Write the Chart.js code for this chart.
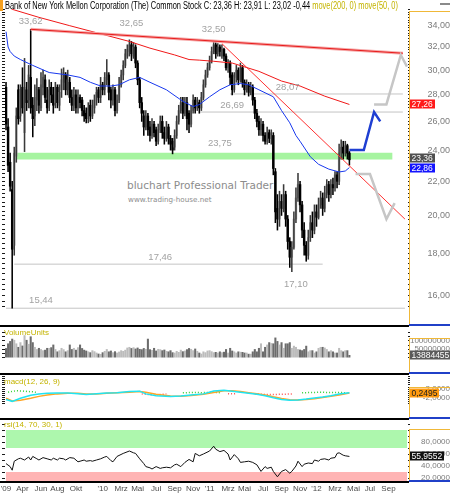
<!DOCTYPE html>
<html>
<head>
<meta charset="utf-8">
<title>Bank of New York Mellon - weekly</title>
<script src="https://cdn.jsdelivr.net/npm/chart.js@4.4.1/dist/chart.umd.min.js"></script>
<style>
  html, body { margin: 0; padding: 0; background: #fff; }
  #wrap { position: relative; width: 450px; height: 494px; overflow: hidden; font-family: "Liberation Sans", Arial, sans-serif; }
  #wrap canvas { position: absolute; left: 0; }
  .abs { position: absolute; white-space: nowrap; }
  .pane { font-size: 8px; line-height: 10px; color: #c4b400; }
</style>
</head>
<body>
<div id="wrap">
  <div class="abs" style="left:127px;top:179px;font-family:'DejaVu Sans';font-size:10.5px;color:#8c8c8c;">bluchart Professional Trader</div>
  <div class="abs" style="left:128px;top:195px;font-family:'DejaVu Sans';font-size:7.2px;color:#8c8c8c;">www.trading-house.net</div>

  <canvas id="priceChart" width="450" height="318" style="top:9px"></canvas>
  <canvas id="volChart" width="450" height="46" style="top:326px"></canvas>
  <canvas id="macdChart" width="450" height="45" style="top:374px"></canvas>
  <canvas id="rsiChart" width="450" height="75" style="top:419px"></canvas>

  <div class="abs" style="left:0;top:0;width:3px;height:11px;background:#f5a020"></div>
  <div class="abs" style="left:5px;top:0;font-size:10px;line-height:11px;color:#000;transform:scaleX(0.745);transform-origin:0 0">Bank of New York Mellon Corporation (The) Common Stock C: 23,36 H: 23,91 L: 23,02 -0,44 <span style="color:#c4b400">move(200, 0) move(50, 0)</span></div>
  <div class="abs" style="left:440px;top:3px;width:10px;height:2px;background:#8a8a8a"></div>

  <div class="abs pane" style="left:4px;top:328px">VolumeUnits</div>
  <div class="abs pane" style="left:4px;top:377px">macd(12, 26, 9)</div>
  <div class="abs pane" style="left:4px;top:420px">rsi(14, 70, 30, 1)</div>

  <!-- pane separators and axis frames -->
  <div class="abs" style="left:0;top:325px;width:409px;height:2px;background:#000"></div>
  <div class="abs" style="left:0;top:373px;width:409px;height:2px;background:#000"></div>
  <div class="abs" style="left:0;top:418px;width:409px;height:2px;background:#000"></div>
  <div class="abs" style="left:0;top:481px;width:409px;height:2px;background:#000"></div>

  <div class="abs" style="left:409px;top:11px;width:1px;height:314px;background:#f0b838"></div>
  <div class="abs" style="left:409px;top:11px;width:41px;height:1px;background:#f0b838"></div>
  <div class="abs" style="left:409px;top:324px;width:41px;height:2px;background:#2040c8"></div>

  <div class="abs" style="left:409px;top:338px;width:1px;height:35px;background:#f0b838"></div>
  <div class="abs" style="left:409px;top:338px;width:41px;height:1px;background:#f0b838"></div>
  <div class="abs" style="left:409px;top:372px;width:41px;height:2px;background:#2040c8"></div>

  <div class="abs" style="left:409px;top:387px;width:1px;height:31px;background:#f0b838"></div>
  <div class="abs" style="left:409px;top:387px;width:41px;height:1px;background:#f0b838"></div>
  <div class="abs" style="left:409px;top:417px;width:41px;height:2px;background:#2040c8"></div>

  <div class="abs" style="left:409px;top:429px;width:1px;height:52px;background:#f0b838"></div>
  <div class="abs" style="left:409px;top:429px;width:41px;height:1px;background:#f0b838"></div>
  <div class="abs" style="left:409px;top:480px;width:41px;height:2px;background:#2040c8"></div>
</div>

<script>
// weekly categories, first week of Feb 2009 up to autumn 2012
const firstWeek = Date.UTC(2009, 1, 2);
const weekMs = 7 * 24 * 3600 * 1000;
const weekLabels = Array.from({ length: 196 }, (_, i) => new Date(firstWeek + i * weekMs).toISOString().slice(0, 10));

const xTickDates = ['2009-02-01', '2009-04-01', '2009-06-01', '2009-08-01', '2009-10-01', '2010-01-01', '2010-03-01',
  '2010-05-01', '2010-07-01', '2010-09-01', '2010-11-01', '2011-01-01', '2011-03-01', '2011-05-01', '2011-07-01',
  '2011-09-01', '2011-11-01', '2012-01-01', '2012-03-01', '2012-05-01', '2012-07-01', '2012-09-01'];
const xTickLabels = ["'09", 'Apr', 'Jun', 'Aug', 'Okt', "'10", 'Mrz', 'Mai', 'Jul', 'Sep', 'Nov',
  "'11", 'Mrz', 'Mai', 'Jul', 'Sep', 'Nov', "'12", 'Mrz', 'Mai', 'Jul', 'Sep'];

// weekly candles
const openPrices = [
  28.6, 25.6, 23.2, 21.5, 18.4, 23.6, 28.4, 26.4, 28.6, 25.2,
  28.4, 27.6, 29.4, 27.2, 26.4, 27.6, 28.4, 27.0, 28.6, 29.2,
  27.6, 27.2, 28.6, 28.0, 27.4, 28.6, 27.2, 28.4, 29.0, 29.6,
  28.4, 29.0, 27.8, 27.2, 28.0, 27.0, 27.8, 27.6, 26.8, 26.6,
  26.2, 27.2, 26.4, 27.0, 27.6, 28.4, 27.8, 28.8, 28.4, 29.2,
  29.6, 28.4, 27.6, 28.4, 26.8, 27.6, 28.8, 29.6, 30.4, 31.2,
  31.6, 32.2, 31.2, 32.0, 30.6, 29.2, 27.4, 26.4, 25.6, 26.4,
  25.6, 25.0, 25.8, 25.4, 24.6, 25.4, 26.0, 25.2, 24.8, 25.6,
  24.8, 24.6, 24.2, 25.0, 26.0, 26.8, 27.4, 26.6, 27.4, 26.6,
  25.8, 26.8, 27.6, 27.0, 27.4, 27.0, 27.8, 28.8, 29.6, 30.2,
  30.8, 31.6, 32.2, 31.4, 32.0, 31.2, 31.8, 31.2, 30.2, 30.6,
  29.6, 28.4, 29.4, 30.0, 29.2, 30.2, 29.0, 28.4, 28.8, 28.2,
  28.6, 27.6, 26.6, 26.0, 25.4, 25.8, 25.0, 24.6, 25.2, 24.8,
  25.0, 22.6, 20.4, 19.8, 20.8, 20.4, 21.2, 19.8, 18.6, 17.8,
  18.3, 19.8, 21.0, 21.8, 20.6, 19.2, 18.4, 17.9, 18.8, 19.6,
  19.2, 20.2, 19.9, 20.6, 21.0, 20.4, 21.3, 21.8, 21.2, 21.8,
  21.6, 22.4, 22.0, 23.8, 24.2, 23.8, 24.3, 23.8
];
const highPrices = [
  29.0, 26.2, 23.8, 22.0, 24.2, 27.0, 28.8, 28.8, 30.2, 31.0,
  29.0, 30.4, 33.62, 27.8, 28.8, 29.3, 28.6, 29.8, 30.0, 29.6,
  28.6, 29.2, 29.0, 28.6, 29.0, 28.8, 28.8, 30.1, 30.2, 29.8,
  30.0, 29.4, 28.4, 28.6, 28.4, 28.4, 28.0, 27.8, 27.2, 27.0,
  27.4, 27.6, 27.6, 28.0, 28.6, 28.6, 29.4, 29.0, 29.8, 30.9,
  29.8, 28.6, 28.8, 28.6, 28.0, 29.4, 30.0, 30.8, 31.8, 32.2,
  32.65, 32.5, 32.4, 32.2, 30.8, 29.4, 27.8, 26.8, 26.8, 26.6,
  26.0, 26.2, 26.0, 25.6, 25.8, 26.4, 26.4, 25.6, 26.0, 25.8,
  25.0, 24.8, 25.4, 26.4, 27.2, 27.8, 27.8, 27.8, 27.8, 26.8,
  27.2, 28.0, 27.8, 27.8, 27.6, 28.2, 29.2, 30.0, 30.6, 31.2,
  32.0, 32.5, 32.4, 32.3, 32.2, 32.2, 31.9, 31.4, 30.9, 30.8,
  29.8, 29.8, 30.4, 30.2, 30.6, 30.4, 29.2, 29.2, 29.0, 29.0,
  28.8, 27.8, 26.9, 26.4, 26.2, 26.0, 25.2, 25.6, 25.4, 25.4,
  25.2, 22.8, 21.2, 21.4, 21.2, 21.8, 21.4, 20.0, 18.8, 18.6,
  20.2, 21.6, 22.5, 22.0, 20.8, 19.6, 18.6, 19.2, 20.0, 20.2,
  20.6, 20.6, 21.0, 21.4, 21.3, 21.7, 22.1, 22.0, 22.1, 22.2,
  22.6, 22.6, 24.4, 24.7, 24.6, 24.6, 24.4, 23.91
];
const lowPrices = [
  25.4, 22.6, 21.4, 15.44, 17.9, 23.2, 25.8, 26.0, 26.6, 23.9,
  26.8, 27.0, 26.6, 24.9, 25.7, 26.8, 26.6, 26.8, 28.0, 27.4,
  26.6, 26.8, 27.4, 26.6, 27.0, 27.0, 26.8, 27.8, 28.4, 28.0,
  28.0, 27.4, 26.8, 26.8, 26.6, 26.6, 27.0, 26.4, 26.0, 25.9,
  25.9, 26.0, 26.2, 26.6, 27.2, 27.4, 27.4, 28.0, 28.0, 28.8,
  27.6, 27.0, 27.2, 26.4, 26.6, 27.4, 28.6, 29.2, 30.2, 31.0,
  31.2, 30.8, 31.0, 30.2, 28.8, 27.0, 26.0, 25.0, 25.4, 25.0,
  24.6, 24.8, 24.9, 24.3, 24.4, 25.2, 24.8, 24.4, 24.6, 24.4,
  24.0, 23.75, 24.0, 24.8, 25.8, 26.6, 26.2, 26.4, 25.4, 25.2,
  25.6, 26.6, 26.6, 26.8, 26.6, 26.8, 27.6, 28.6, 29.4, 30.0,
  30.6, 31.4, 31.0, 31.2, 31.2, 31.0, 30.8, 30.0, 29.8, 28.8,
  28.0, 28.2, 29.0, 28.8, 29.0, 28.6, 28.0, 28.2, 27.9, 28.0,
  27.2, 26.2, 25.6, 25.0, 25.0, 24.6, 24.4, 24.4, 24.5, 24.4,
  22.4, 19.6, 19.2, 19.4, 20.0, 20.2, 19.4, 18.2, 17.3, 17.10,
  18.2, 19.6, 20.8, 20.2, 18.8, 17.9, 17.6, 17.7, 18.6, 18.8,
  19.0, 19.4, 19.8, 20.4, 20.0, 20.2, 21.0, 20.8, 21.0, 21.2,
  21.4, 21.6, 21.8, 23.4, 23.4, 23.6, 23.4, 23.02
];
const closePrices = [
  25.8, 23.0, 21.7, 18.2, 23.8, 26.4, 26.2, 28.4, 27.0, 28.6,
  27.4, 29.6, 27.0, 26.2, 27.8, 28.6, 27.2, 28.8, 29.4, 27.8,
  27.0, 28.4, 28.0, 27.2, 28.6, 27.4, 28.2, 29.2, 29.8, 28.4,
  29.2, 27.8, 27.2, 28.0, 27.0, 27.8, 27.4, 26.8, 26.4, 26.2,
  27.0, 26.4, 27.2, 27.6, 28.2, 27.8, 28.8, 28.4, 29.4, 29.8,
  28.2, 27.6, 28.4, 26.8, 27.6, 28.8, 29.6, 30.4, 31.4, 31.8,
  32.2, 31.4, 32.0, 30.6, 29.2, 27.4, 26.6, 25.6, 26.4, 25.4,
  25.0, 25.8, 25.2, 24.6, 25.4, 26.0, 25.2, 24.8, 25.6, 24.8,
  24.4, 24.0, 25.0, 26.0, 26.8, 27.4, 26.6, 27.4, 26.2, 25.8,
  26.8, 27.6, 27.0, 27.4, 27.0, 27.8, 28.8, 29.6, 30.2, 30.8,
  31.6, 32.2, 31.4, 32.0, 31.6, 31.8, 31.2, 30.2, 30.6, 29.4,
  28.4, 29.4, 30.0, 29.2, 30.2, 29.0, 28.4, 28.8, 28.2, 28.6,
  27.6, 26.6, 26.0, 25.4, 25.8, 25.0, 24.6, 25.2, 24.8, 25.0,
  22.8, 20.2, 19.8, 20.8, 20.4, 21.2, 19.8, 18.6, 17.8, 18.3,
  19.8, 21.0, 21.8, 20.6, 19.2, 18.4, 17.9, 18.8, 19.6, 19.2,
  20.2, 19.9, 20.6, 21.0, 20.4, 21.3, 21.8, 21.2, 21.8, 21.6,
  22.4, 22.0, 23.8, 24.2, 23.8, 24.3, 23.8, 23.36
];
// volume in millions of shares
const volumeMio = [
  55, 83, 97, 111, 104, 83, 62, 90, 70, 132,
  104, 80, 125, 90, 62, 49, 56, 49, 42, 45,
  56, 56, 60, 76, 49, 35, 42, 56, 48, 35,
  42, 76, 49, 56, 45, 60, 76, 55, 45, 40,
  35, 30, 42, 36, 28, 22, 20, 30, 38, 49,
  35, 40, 30, 36, 28, 34, 42, 38, 45, 58,
  62, 55, 60, 52, 58, 50, 48, 55, 50, 111,
  48, 44, 56, 40, 50, 48, 42, 46, 38, 35,
  42, 30, 28, 38, 32, 45, 36, 40, 48, 55,
  50, 42, 52, 38, 28, 22, 35, 30, 40, 42,
  36, 30, 32, 28, 35, 30, 33, 49, 28, 56,
  40, 35, 28, 35, 33, 32, 28, 28, 21, 21,
  35, 49, 35, 56, 83, 35, 62, 76, 90, 85,
  83, 118, 97, 76, 90, 56, 83, 83, 90, 56,
  69, 62, 49, 46, 42, 49, 69, 35, 42, 42,
  28, 35, 56, 62, 62, 58, 49, 35, 42, 35,
  28, 28, 56, 42, 35, 42, 42, 13.884455
];

// moving averages
const ma200Weeks = [0, 3, 16, 31, 46, 60, 70, 82, 89, 94, 101, 110, 123, 134, 143, 155, 167];
const ma200Values = [36.0, 35.55, 34.76, 33.96, 33.2, 32.5, 31.9, 31.3, 30.9, 30.85, 30.75, 30.6, 29.9, 29.1, 28.7, 27.9, 27.26];
const ma50Weeks = [0, 1, 2, 4, 7, 13, 21, 30, 36, 41, 46, 51, 55, 60, 65, 70, 78, 86, 91, 94,
  99, 104, 109, 114, 118, 123, 130, 134, 138, 141, 143, 148, 152, 157, 162, 165, 167];
const ma50Values = [33.4, 32.0, 31.6, 31.2, 30.9, 30.4, 29.8, 29.6, 29.4, 29.0, 28.7, 28.7, 28.8, 29.2, 29.4, 29.0, 28.4, 27.5, 27.1, 27.25,
  27.85, 28.4, 28.8, 28.9, 28.8, 28.4, 27.85, 26.8, 25.9, 25.0, 24.6, 23.56, 23.07, 22.76, 22.58, 22.64, 22.86];

// drawing tools
const trendWeeks = [12, 193];
const trendValues = [33.62, 31.45];
const downWeeks = [105, 194];
const downValues = [32.3, 19.8];
const levelPrices = [15.44, 17.46, 26.69, 28.07];
const levelFrom = [0, 4, 94, 109];
const levelTo = [194, 154, 193, 193];
const zoneWeeks = [5, 188];
const zoneTop = 23.82;
const zoneBottom = 23.38;
const blueProjWeeks = [167, 174, 179, 182];
const blueProjValues = [24.0, 24.0, 26.69, 26.0];
const grayUpWeeks = [179, 185, 192, 195];
const grayUpValues = [27.26, 27.26, 31.3, 30.3];
const grayDownWeeks = [170, 177, 185, 189];
const grayDownValues = [22.45, 22.45, 19.8, 20.7];

// indicators
const macdWeeks = [0, 3, 7, 12, 16, 20, 25, 30, 35, 39, 44, 49, 54, 60, 65, 68, 73, 80, 85, 90,
  96, 101, 106, 110, 114, 118, 122, 126, 130, 134, 138, 142, 146, 150, 154, 158, 162, 167];
const macdValues = [-3.0, -3.9, -2.4, -1.0, -0.4, 0, 0.1, 0.1, -0.2, -0.6, -0.2, 0.1, 0.3, 0.8, 1.0, -0.3, -1.2, -1.6, -1.3, -0.8,
  -0.3, 1.1, 1.5, 1.0, 0.5, 0, -0.5, -1.2, -2.2, -3.0, -3.4, -3.2, -2.8, -2.3, -1.8, -1.2, -0.4, 0.25];
const signalValues = [-2.4, -3.7, -3.4, -2.4, -1.5, -0.8, -0.3, 0, 0, -0.3, -0.3, 0, 0.2, 0.5, 0.8, 0.5, -0.5, -1.3, -1.4, -1.1,
  -0.5, 0.4, 1.2, 1.2, 0.8, 0.3, -0.2, -0.8, -1.7, -2.5, -3.1, -3.2, -3.0, -2.6, -2.1, -1.5, -0.8, 0.1];
const histWeeks = [1, 3, 5, 7, 9, 11, 13, 15, 66, 68, 70, 72, 74, 76, 78, 86, 88, 90, 92, 94, 96, 98, 100, 102, 104,
  108, 110, 112, 121, 123, 125, 127, 129, 131, 133, 135, 137, 139, 144, 146, 148, 150, 152, 154, 156, 158, 160, 162, 164, 166];
const histValues = [0.5, 0.9, 1.2, 1.1, 1.0, 0.8, 0.7, 0.4, -0.3, -0.5, -0.7, -0.8, -0.7, -0.5, -0.3, 0.2, 0.3, 0.4, 0.4, 0.3, 0.3, 0.4, 0.5, 0.4, 0.3,
  -0.2, -0.3, -0.2, -0.3, -0.4, -0.5, -0.6, -0.6, -0.6, -0.5, -0.5, -0.4, -0.3, 0.2, 0.3, 0.4, 0.4, 0.5, 0.5, 0.4, 0.4, 0.4, 0.4, 0.3, 0.3];
const rsiWeeks = [
  0, 2, 3, 4, 6, 7, 9, 11, 12, 13,
  15, 16, 18, 20, 22, 23, 25, 26, 28, 29,
  31, 33, 35, 36, 38, 39, 41, 42, 44, 46,
  48, 49, 51, 52, 54, 57, 60, 62, 63, 65,
  67, 68, 70, 71, 73, 75, 76, 78, 80, 82,
  83, 85, 87, 89, 91, 92, 94, 96, 99, 101,
  102, 104, 106, 108, 109, 111, 113, 114, 116, 118,
  120, 122, 124, 126, 127, 129, 130, 132, 134, 136,
  138, 139, 141, 142, 144, 145, 147, 149, 150, 152,
  153, 155, 157, 158, 160, 161, 162, 164, 165, 167
];
const rsiValues = [
  44, 39, 33, 48, 52, 53, 50, 55, 50, 56,
  52, 50, 54, 52, 50, 53, 50, 53, 52, 50,
  54, 53, 47, 48, 50, 48, 49, 48, 50, 52,
  55, 56, 49, 47, 56, 61, 65, 62, 61, 52,
  44, 39, 37, 35, 39, 36, 37, 38, 37, 42,
  43, 39, 46, 51, 47, 61, 57, 60, 65, 73,
  68, 64, 66, 60, 50, 59, 52, 46, 47, 48,
  46, 42, 31, 39, 36, 38, 31, 22, 31, 34,
  28, 31, 40, 48, 39, 43, 45, 44, 50, 48,
  51, 52, 50, 53, 54, 61, 62, 58, 57, 55.9552
];

// axis ticks
const priceTicks = [16, 18, 20, 22, 24, 26, 28, 30, 32, 34];
const volumeTicks = [50, 100];
const macdTicks = [-2, 2];
const rsiTicks = [20, 40, 60, 80];

// ---------------------------------------------------------------
Chart.defaults.font.family = '"Liberation Sans", Arial, sans-serif';
Chart.defaults.animation = false;
Chart.defaults.events = [];
Chart.defaults.responsive = false;
Chart.defaults.maintainAspectRatio = false;
Chart.defaults.plugins.legend.display = false;
Chart.defaults.plugins.tooltip.enabled = false;

const isUp = i => closePrices[i] >= openPrices[i];
const pts = (weeks, values) => weeks.map((w, k) => ({ x: weekLabels[w], y: values[k] }));
const comma = (v, d) => v.toFixed(d).replace('.', ',');

const tickAt = {};
xTickDates.forEach((d, k) => {
  tickAt[Math.max(0, Math.floor((Date.parse(d) - firstWeek) / weekMs))] = xTickLabels[k];
});

function line(data, color, width, order, extra) {
  return Object.assign({ type: 'line', data, yAxisID: 'y', borderColor: color, borderWidth: width,
    pointRadius: 0, fill: false, tension: 0, order }, extra || {});
}

function xScale(show) {
  return {
    type: 'category', offset: true, display: show,
    grid: { display: false, drawTicks: false }, border: { display: false },
    ticks: { autoSkip: false, maxRotation: 0, minRotation: 0, padding: 3, color: '#4a4a4a',
      font: { size: 8 },
      callback: (v, i) => (i in tickAt ? tickAt[i] : '') },
    afterFit: s => { s.height = 13; s.paddingLeft = 0; s.paddingRight = 0; }
  };
}

function sideAxes(type, min, max, tickValues, labelValues, fmt, fontSize) {
  const build = s => { s.ticks = tickValues.map(v => ({ value: v })); };
  return {
    y: { type, position: 'right', min, max, afterBuildTicks: build,
      afterFit: s => { s.width = 42; s.paddingTop = 0; s.paddingBottom = 0; },
      grid: { drawOnChartArea: false, tickLength: 2, color: '#1a1a1a' }, border: { display: false },
      ticks: { autoSkip: false, crossAlign: 'far', padding: 0, color: '#7c7c7c', font: { size: fontSize },
        callback: v => (labelValues.includes(v) ? fmt(v) : '') } },
    yl: { type, position: 'left', min, max, afterBuildTicks: build,
      afterFit: s => { s.width = 5; s.paddingTop = 0; s.paddingBottom = 0; },
      grid: { drawOnChartArea: false, tickLength: 3, color: '#1a1a1a' }, border: { display: false },
      ticks: { display: false } }
  };
}

function overlay(tags, notes) {
  return {
    id: 'overlay',
    afterDatasetsDraw(chart) {
      const { ctx, chartArea: a, scales: { x, y } } = chart;
      ctx.save();
      ctx.font = '9.5px "Liberation Sans"';
      ctx.fillStyle = '#a2a2a2';
      ctx.textAlign = 'center';
      ctx.textBaseline = 'middle';
      notes.forEach(n => ctx.fillText(n.text, x.getPixelForValue(n.week), y.getPixelForValue(n.price) + n.dy));
      ctx.font = '8.5px "Liberation Sans"';
      ctx.textAlign = 'left';
      tags.forEach(t => {
        const py = Math.round(y.getPixelForValue(t.value) + (t.dy || 0));
        const w = Math.ceil(ctx.measureText(t.text).width) + 3;
        ctx.fillStyle = t.bg;
        ctx.fillRect(a.right + 2, py - 4.5, w, 9);
        ctx.fillStyle = t.fg;
        ctx.fillText(t.text, a.right + 3.5, py + 0.5);
      });
      ctx.restore();
    }
  };
}

// ---- price pane ----
const priceMinor = Array.from({ length: 81 }, (_, k) => 15.5 + k * 0.25);
const priceDatasets = [
  line(pts(zoneWeeks, [zoneTop, zoneTop]), 'rgba(0,0,0,0)', 0, 20, { fill: '+1', backgroundColor: '#a6f4a0' }),
  line(pts(zoneWeeks, [zoneBottom, zoneBottom]), 'rgba(0,0,0,0)', 0, 20)
];
levelPrices.forEach((p, k) => {
  priceDatasets.push(line(pts([levelFrom[k], levelTo[k]], [p, p]), '#c4c4c4', 1, 15));
});
priceDatasets.push(
  { label: 'body', data: openPrices.map((o, i) => [o, closePrices[i]]), yAxisID: 'y',
    backgroundColor: c => (isUp(c.dataIndex) ? '#a8a8a8' : '#000000'), barThickness: 1.8, grouped: false, order: 8 },
  { label: 'wick', data: lowPrices.map((l, i) => [l, highPrices[i]]), yAxisID: 'y',
    backgroundColor: c => (isUp(c.dataIndex) ? '#3a3a3a' : '#000000'), barThickness: 0.9, grouped: false, order: 7 },
  line(pts(ma200Weeks, ma200Values), '#f01818', 1, 4),
  line(pts(ma50Weeks, ma50Values), '#1838ee', 1, 4),
  line(pts(trendWeeks, trendValues), '#f6a8a8', 3, 3),
  line(pts(trendWeeks, trendValues), '#e81c1c', 1, 2),
  line(pts(downWeeks, downValues), '#ff3030', 1, 3),
  line(pts(grayUpWeeks, grayUpValues), '#c6c6c6', 2.5, 1),
  line(pts(grayDownWeeks, grayDownValues), '#c6c6c6', 2.5, 1),
  line(pts(blueProjWeeks, blueProjValues), '#1f3fd2', 2.5, 1)
);

new Chart(document.getElementById('priceChart'), {
  type: 'bar',
  data: { labels: weekLabels, datasets: priceDatasets },
  options: {
    layout: { padding: { top: 0, bottom: 1, left: 0, right: 0 } },
    scales: Object.assign({ x: xScale(false) },
      sideAxes('logarithmic', 15.235, 35.58, priceMinor, priceTicks, v => comma(v, 2), 9))
  },
  plugins: [overlay(
    [
      { value: 27.26, text: '27,26', bg: '#ff1a1a', fg: '#ffffff' },
      { value: 23.36, text: '23,36', bg: '#505050', fg: '#ffffff', dy: -1.5 },
      { value: 22.86, text: '22,86', bg: '#1414ff', fg: '#ffffff', dy: 0.5 }
    ],
    [
      { text: '33,62', week: 12, price: 33.62, dy: -8 },
      { text: '32,65', week: 61, price: 32.65, dy: -16 },
      { text: '32,50', week: 101, price: 32.50, dy: -12 },
      { text: '28,07', week: 137, price: 28.07, dy: -7 },
      { text: '26,69', week: 110, price: 26.69, dy: -7 },
      { text: '23,75', week: 104, price: 23.75, dy: -10 },
      { text: '17,46', week: 75, price: 17.46, dy: -7 },
      { text: '17,10', week: 141, price: 17.10, dy: 13 },
      { text: '15,44', week: 17, price: 15.44, dy: -8 }
    ])]
});

// ---- volume pane ----
new Chart(document.getElementById('volChart'), {
  type: 'bar',
  data: { labels: weekLabels, datasets: [{
    data: volumeMio, yAxisID: 'y', barThickness: 1.4,
    backgroundColor: c => (isUp(c.dataIndex) ? '#bcbcbc' : '#6c6c6c')
  }] },
  options: {
    layout: { padding: { top: 2, bottom: 1, left: 0, right: 0 } },
    scales: Object.assign({ x: xScale(false) },
      sideAxes('linear', -2, 177, [0, 25, 50, 75, 100, 125, 150], volumeTicks, v => String(v * 1000000), 8))
  },
  plugins: [overlay([{ value: 13.884455, text: '13884455', bg: '#5a5a5a', fg: '#ffffff' }], [])]
});

// ---- macd pane ----
const histUp = histWeeks.map((w, k) => [w, histValues[k]]).filter(p => p[1] > 0);
const histDown = histWeeks.map((w, k) => [w, histValues[k]]).filter(p => p[1] < 0);
new Chart(document.getElementById('macdChart'), {
  type: 'line',
  data: { labels: weekLabels, datasets: [
    line(pts(histUp.map(p => p[0]), histUp.map(p => p[1])), '#36d236', 1.5, 3, { borderDash: [1, 2], spanGaps: 3 }),
    line(pts(histDown.map(p => p[0]), histDown.map(p => p[1])), '#ff5050', 1.5, 3, { borderDash: [1, 2], spanGaps: 3 }),
    line(pts(macdWeeks, signalValues), '#ffa526', 1.5, 2),
    line(pts(macdWeeks, macdValues), '#20e4f2', 1.5, 1)
  ] },
  options: {
    layout: { padding: { top: 2, bottom: 1, left: 0, right: 0 } },
    scales: Object.assign({ x: xScale(false) },
      sideAxes('linear', -5.67, 8.33, [-5, -4, -3, -2, -1, 0, 1, 2, 3, 4, 5, 6, 7, 8], macdTicks, v => comma(v, 4), 8))
  },
  plugins: [overlay([{ value: 0.2495, text: '0,2495', bg: '#ff9a10', fg: '#202020' }], [])]
});

// ---- rsi pane ----
const lastWeek = weekLabels.length - 1;
new Chart(document.getElementById('rsiChart'), {
  type: 'line',
  data: { labels: weekLabels, datasets: [
    line(pts([0, lastWeek], [100, 100]), 'rgba(0,0,0,0)', 0, 10, { fill: '+1', backgroundColor: '#adf7ad' }),
    line(pts([0, lastWeek], [70, 70]), 'rgba(0,0,0,0)', 0, 10),
    line(pts([0, lastWeek], [30, 30]), 'rgba(0,0,0,0)', 0, 10, { fill: 'start', backgroundColor: '#ffb4b4' }),
    line(pts(rsiWeeks, rsiValues), '#111111', 1, 1)
  ] },
  options: {
    layout: { padding: { top: 1, bottom: 0, left: 0, right: 0 } },
    scales: Object.assign({ x: xScale(true) },
      sideAxes('linear', 15, 116.7, [20, 30, 40, 50, 60, 70, 80, 90, 100, 110], rsiTicks, v => comma(v, 4), 8))
  },
  plugins: [overlay([{ value: 55.9552, text: '55,9552', bg: '#111111', fg: '#ffffff' }], [])]
});
</script>
</body>
</html>
